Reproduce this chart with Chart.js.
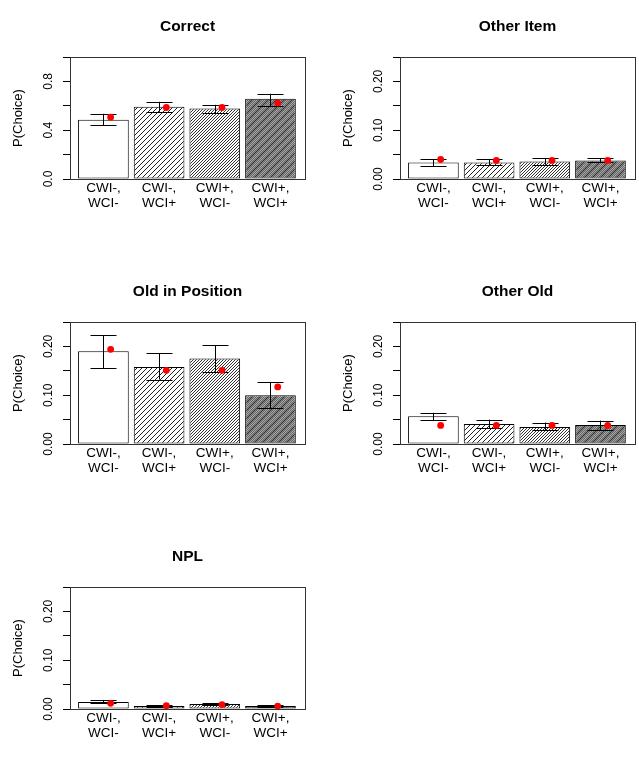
<!DOCTYPE html>
<html>
<head>
<meta charset="utf-8">
<script src="https://cdn.jsdelivr.net/npm/chart.js@4"></script>
<style>
    html, body { margin: 0; padding: 0; background: #fff; overflow: hidden; }
    body { width: 639px; height: 768px; position: relative; }
    .panel { position: absolute; width: 309px; height: 238px; }
</style>
</head>
<body>
<div class="panel" style="left:0;top:0"><canvas id="c0" width="309" height="238"></canvas></div>
<div class="panel" style="left:330px;top:0"><canvas id="c1" width="309" height="238"></canvas></div>
<div class="panel" style="left:0;top:265px"><canvas id="c2" width="309" height="238"></canvas></div>
<div class="panel" style="left:330px;top:265px"><canvas id="c3" width="309" height="238"></canvas></div>
<div class="panel" style="left:0;top:530px"><canvas id="c4" width="309" height="238"></canvas></div>
<script>
// Conditions on the x axis (two lines each)
const categories = [['CWI-,', 'WCI-'], ['CWI-,', 'WCI+'], ['CWI+,', 'WCI-'], ['CWI+,', 'WCI+']];
const panelTitles = ['Correct', 'Other Item', 'Old in Position', 'Other Old', 'NPL'];
const yMax = [1.0, 0.25, 0.25, 0.25, 0.25];
const yDigits = [1, 2, 2, 2, 2];

// observed proportions (bars), one row per panel
const barMeans = [
    [0.485, 0.592, 0.578, 0.658],
    [0.034, 0.034, 0.036, 0.038],
    [0.190, 0.158, 0.175, 0.100],
    [0.057, 0.041, 0.035, 0.039],
    [0.0145, 0.006, 0.010, 0.006]
];
const errLow = [
    [0.441, 0.551, 0.540, 0.600],
    [0.026, 0.029, 0.029, 0.034],
    [0.155, 0.132, 0.148, 0.073],
    [0.049, 0.032, 0.028, 0.028],
    [0.012, 0.005, 0.009, 0.005]
];
const errHigh = [
    [0.534, 0.633, 0.608, 0.699],
    [0.041, 0.041, 0.043, 0.043],
    [0.223, 0.186, 0.202, 0.127],
    [0.064, 0.050, 0.044, 0.048],
    [0.0186, 0.0076, 0.0117, 0.0076]
];
// model predictions (red dots)
const predicted = [
    [0.507, 0.586, 0.586, 0.622],
    [0.040, 0.038, 0.038, 0.038],
    [0.194, 0.151, 0.151, 0.117],
    [0.038, 0.038, 0.038, 0.038],
    [0.0117, 0.0069, 0.009, 0.006]
];

const FONT = '"Liberation Sans", Arial, Helvetica, sans-serif';

// diagonal "/" hatch patterns
function hatch(size, step, bg, lineColor, lineW, extra) {
    const c = document.createElement('canvas');
    c.width = size; c.height = size;
    const g = c.getContext('2d');
    g.fillStyle = bg;
    g.fillRect(0, 0, size, size);
    const draw = (st, col, w) => {
        g.strokeStyle = col;
        g.lineWidth = w;
        for (let k = -size; k <= size * 2; k += st) {
            g.beginPath();
            g.moveTo(k - 1, size + 1);
            g.lineTo(k + size + 1, -1);
            g.stroke();
        }
    };
    draw(step, lineColor, lineW);
    if (extra) draw(extra.step, extra.color, extra.width);
    return g.createPattern(c, 'repeat');
}

const fills = [
    '#ffffff',
    hatch(10, 5, '#ffffff', '#222', 1),
    hatch(9, 3, '#ffffff', '#333', 1),
    hatch(8, 2, '#a8a8a8', '#555', 0.8, { step: 8, color: '#333', width: 1.2 })
];

const panelDecor = {
    id: 'panelDecor',
    afterDatasetDraw(chart, args) {
        if (args.index !== 0) return;
        const p = chart.options.plugins.panelDecor.panel;
        const ctx = chart.ctx;
        const x = chart.scales.x, y = chart.scales.y;
        ctx.save();
        ctx.strokeStyle = '#000';
        ctx.lineWidth = 1;
        for (let i = 0; i < 4; i++) {
            const cx = Math.round(x.getPixelForValue(i)) + 0.5;
            const yl = y.getPixelForValue(errLow[p][i]);
            const yh = y.getPixelForValue(errHigh[p][i]);
            ctx.beginPath();
            ctx.moveTo(cx, yl); ctx.lineTo(cx, yh);
            ctx.moveTo(cx - 13, Math.round(yl) + 0.5); ctx.lineTo(cx + 13, Math.round(yl) + 0.5);
            ctx.moveTo(cx - 13, Math.round(yh) + 0.5); ctx.lineTo(cx + 13, Math.round(yh) + 0.5);
            ctx.stroke();
        }
        ctx.restore();
    },
    afterDraw(chart) {
        const p = chart.options.plugins.panelDecor.panel;
        const ctx = chart.ctx;
        const a = chart.chartArea;
        const x = chart.scales.x, y = chart.scales.y;
        ctx.save();
        // box
        ctx.strokeStyle = '#333';
        ctx.lineWidth = 1;
        ctx.strokeRect(Math.round(a.left) + 0.5, Math.round(a.top) + 0.5,
            Math.round(a.right - a.left), Math.round(a.bottom - a.top));
        ctx.fillStyle = '#000';
        // title
        ctx.font = 'bold 15.5px ' + FONT;
        ctx.textAlign = 'center';
        ctx.textBaseline = 'middle';
        ctx.fillText(panelTitles[p], (a.left + a.right) / 2, 27);
        // x labels
        ctx.font = '13.5px ' + FONT;
        for (let i = 0; i < categories.length; i++) {
            const cx = x.getPixelForValue(i);
            ctx.fillText(categories[i][0], cx, a.bottom + 9.5);
            ctx.fillText(categories[i][1], cx, a.bottom + 24.5);
        }
        // y tick labels (rotated, every other tick)
        ctx.font = '12px ' + FONT;
        y.ticks.forEach((t, i) => {
            if (i % 2 !== 0 || i > 4) return;
            ctx.save();
            ctx.translate(48.5, y.getPixelForValue(t.value));
            ctx.rotate(-Math.PI / 2);
            ctx.fillText(t.value.toFixed(yDigits[p]), 0, 0);
            ctx.restore();
        });
        // y axis title
        ctx.font = '13px ' + FONT;
        ctx.translate(18.5, (a.top + a.bottom) / 2);
        ctx.rotate(-Math.PI / 2);
        ctx.fillText('P(Choice)', 0, 0);
        ctx.restore();
    }
};

function makePanel(p) {
    const ctx = document.getElementById('c' + p).getContext('2d');
    return new Chart(ctx, {
        data: {
            datasets: [
                {
                    type: 'bar',
                    order: 1,
                    data: barMeans[p].map((v, i) => ({ x: i, y: v })),
                    backgroundColor: fills,
                    borderColor: '#000',
                    borderWidth: 1,
                    borderSkipped: false,
                    barPercentage: 0.91,
                    categoryPercentage: 1.0
                },
                {
                    type: 'scatter',
                    order: 0,
                    data: predicted[p].map((v, i) => ({ x: i + 0.13, y: v })),
                    backgroundColor: '#ff0000',
                    borderWidth: 0,
                    pointRadius: 3.4
                }
            ]
        },
        options: {
            responsive: false,
            animation: false,
            events: [],
            layout: { padding: { top: 57, right: 4, bottom: 59, left: 0 } },
            plugins: {
                legend: { display: false },
                tooltip: { enabled: false },
                panelDecor: { panel: p }
            },
            scales: {
                x: {
                    type: 'linear',
                    display: false,
                    offset: false,
                    min: -0.6,
                    max: 3.62
                },
                y: {
                    type: 'linear',
                    min: 0,
                    max: yMax[p],
                    ticks: { display: false, stepSize: yMax[p] / 5 },
                    grid: { drawOnChartArea: false, drawTicks: true, tickLength: 7, color: '#000' },
                    border: { display: true, color: '#000' },
                    afterFit: (s) => { s.width = 70; }
                }
            }
        },
        plugins: [panelDecor]
    });
}

for (let p = 0; p < panelTitles.length; p++) makePanel(p);
</script>
</body>
</html>
